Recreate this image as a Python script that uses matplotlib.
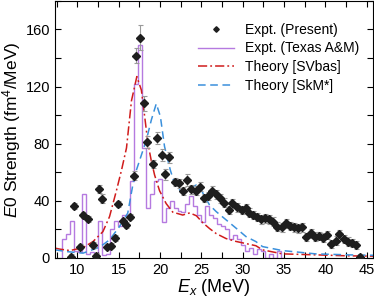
import numpy as np
import matplotlib
matplotlib.use('Agg')
import matplotlib.pyplot as plt
from matplotlib.lines import Line2D
from matplotlib.ticker import MultipleLocator

plt.rcParams['font.family'] = ['Liberation Sans', 'DejaVu Sans']
plt.rcParams['mathtext.fontset'] = 'custom'
plt.rcParams['mathtext.rm'] = 'Liberation Sans'
plt.rcParams['mathtext.it'] = 'Liberation Sans:italic'

# Expt. (Present): energy, strength, error
ex_present = [9.2, 9.6, 10.3, 10.7, 11.3, 11.85, 12.25, 12.6, 12.95, 13.55,
              14.1, 14.6, 14.95, 15.5, 15.95, 16.35, 16.85, 17.15, 17.6, 18.05,
              18.4, 19.1, 19.6, 20.2, 20.65, 21.15, 21.8, 22.3, 22.75, 23.3,
              23.8, 24.3, 24.8, 25.3, 25.8, 26.3, 26.8, 27.3, 27.8, 28.3,
              28.75, 29.3, 29.9, 30.4, 30.8, 31.25, 31.75, 32.25, 32.75, 33.2,
              33.7, 34.2, 34.7, 35.2, 35.7, 36.2, 36.7, 37.2, 37.7, 38.25,
              38.7, 39.25, 39.7, 40.25, 40.7, 41.25, 41.7, 42.25, 42.7, 43.25,
              43.7, 44.2]
s_present = [0.5, 36.4, 7.9, 30.0, 27.0, 9.1, 1.2, 48.3, 41.5, 7.9,
             8.6, 13.8, 37.5, 25.6, 23.0, 28.9, 57.6, 141.7, 154.3, 108.2,
             81.3, 65.7, 84.0, 72.0, 58.5, 70.4, 53.0, 52.2, 46.7, 54.5,
             48.0, 47.1, 49.9, 42.0, 43.4, 47.1, 44.5, 41.7, 38.7, 33.6,
             38.2, 35.4, 33.6, 34.7, 31.7, 30.0, 28.5, 27.0, 27.7, 27.0,
             25.4, 21.9, 21.4, 24.2, 22.4, 21.4, 20.7, 21.4, 14.5, 17.2,
             14.9, 15.4, 14.2, 16.1, 9.8, 12.1, 16.8, 13.1, 11.4, 10.3,
             9.1, 0.9]
err_present = [2, 2, 2, 2, 2, 2, 2, 3, 3, 2,
               2, 2, 2, 2, 2, 2, 3, 5, 9, 5,
               4, 3, 4, 4, 4, 4, 3, 3, 3, 4,
               3, 3, 3, 3, 3, 3, 3, 3, 3, 3,
               3, 3, 3, 3, 3, 3, 3, 3, 3, 3,
               3, 3, 3, 3, 3, 3, 3, 3, 3, 3,
               3, 3, 3, 3, 3, 3, 3, 3, 3, 3,
               3, 2]

# Expt. (Texas A&M) histogram
tamu_edges = [8.2, 8.68, 9.16, 9.64, 10.12, 10.6, 11.08, 11.56, 12.04, 12.52,
              13.0, 13.48, 13.96, 14.44, 14.92, 15.4, 15.88, 16.36, 16.84, 17.32,
              17.8, 18.28, 18.76, 19.24, 19.72, 20.2, 20.68, 21.16, 21.64, 22.12,
              22.6, 23.08, 23.56, 24.04, 24.52, 25.0, 25.48, 25.96, 26.44, 26.92,
              27.4, 27.88, 28.36, 28.84, 29.32, 29.8, 30.28, 30.76, 31.24, 31.72,
              32.2, 32.68, 33.16, 33.64, 34.12, 34.6, 35.08]
tamu_s = [13, 16.5, 26, 5, 4, 45, 3, 4, 3, 26,
          2, 3, 20, 26, 22, 30, 30, 54, 122, 149,
          77, 34.7, 45, 54, 55, 25, 35, 40, 35, 33,
          32, 38, 43, 36, 30, 25, 36, 30, 28, 24,
          22, 20, 13, 16, 13, 9, 5, 7, 3, 6,
          5, 0, 3, 0, 5, 0]

# Theory curves
e_svbas = [7.3, 7.9, 9.1, 10.7, 11.9, 13.1, 13.9, 14.75, 15.35, 15.95,
           16.55, 17.2, 17.75, 18.15, 18.55, 18.95, 19.35, 19.95, 20.75, 21.55,
           22.75, 23.6, 24.4, 25.2, 26.0, 26.8, 28.0, 29.2, 30.4, 31.6,
           32.4, 34.8, 38.8, 42.8, 45.8]
s_svbas = [6.8, 6.1, 5.1, 7.2, 11.4, 18.4, 28.9, 47.5, 61.5, 77,
           110, 127, 117.5, 99, 80, 68, 58, 47, 38, 32,
           30, 31.5, 29.5, 24.5, 20.5, 17, 13.5, 11.5, 10, 8.5,
           5.6, 2.8, 2.1, 1.4, 1.2]
e_skm = [7.3, 8.7, 10.7, 12.7, 13.9, 15.1, 16.1, 16.75, 17.15, 17.95,
         18.35, 18.95, 19.55, 20.05, 20.55, 21.25, 21.75, 22.55, 23.35, 24.4,
         24.8, 25.4, 26.0, 26.8, 28.0, 29.2, 30.4, 31.6, 32.4, 34.8,
         38.8, 42.8, 45.8]
s_skm = [5.6, 4.4, 3.3, 7.5, 12.6, 21.9, 31.3, 52.2, 61.5, 75.5,
         82.5, 96.5, 108, 99, 78, 61.5, 52.2, 46.4, 48.7, 51,
         49.9, 42.9, 37, 32.4, 26.6, 20.8, 14.9, 11.4, 7.9, 5.1,
         2.8, 2.1, 1.8]

fig = plt.figure(figsize=(3.74, 3.03), dpi=100)
ax = fig.add_axes([0.147, 0.149, 0.85, 0.848])

ax.stairs(tamu_s, tamu_edges, color='#b57ae0', lw=1.0)
ax.plot(e_svbas, s_svbas, color='#d01c1c', lw=1.1, ls=(0, (6, 2, 1.2, 2)))
ax.plot(e_skm, s_skm, color='#3a90dc', lw=1.1, ls=(0, (5, 3)))
ax.errorbar(ex_present, s_present, yerr=err_present, fmt='D', ms=3.8,
            color='#1e1e1e', ecolor='#9a9a9a', elinewidth=0.8, capsize=1.8,
            capthick=0.8, zorder=5)

ax.set_xlim(7.3, 45.75)
ax.set_ylim(0, 180)
ax.xaxis.set_major_locator(MultipleLocator(5))
ax.xaxis.set_minor_locator(MultipleLocator(2.5))
ax.yaxis.set_major_locator(MultipleLocator(40))
ax.yaxis.set_minor_locator(MultipleLocator(20))
ax.tick_params(which='both', direction='in', top=True, right=True, labelsize=10.5)
ax.tick_params(which='major', length=4, width=0.8)
ax.tick_params(which='minor', length=4, width=0.8)
ax.set_xlabel(r'$E_x$ (MeV)', fontsize=13, labelpad=0)
ax.set_ylabel(r'$E0$ Strength (fm$^4$/MeV)', fontsize=12.5, labelpad=2)

handles = [
    Line2D([], [], ls='none', marker='D', ms=2.8, color='#1e1e1e'),
    Line2D([], [], color='#b57ae0', lw=1.0),
    Line2D([], [], color='#d01c1c', lw=1.1, ls=(0, (6, 2, 1.2, 2))),
    Line2D([], [], color='#3a90dc', lw=1.1, ls=(0, (5, 3))),
]
labels = ['Expt. (Present)', 'Expt. (Texas A&M)', 'Theory [SVbas]', 'Theory [SkM*]']
ax.legend(handles, labels, loc='upper right', frameon=False, fontsize=10,
          handlelength=2.6, borderaxespad=0.6, labelspacing=0.35,
          bbox_to_anchor=(1.0, 0.97))

fig.savefig('out.png', dpi=100)
